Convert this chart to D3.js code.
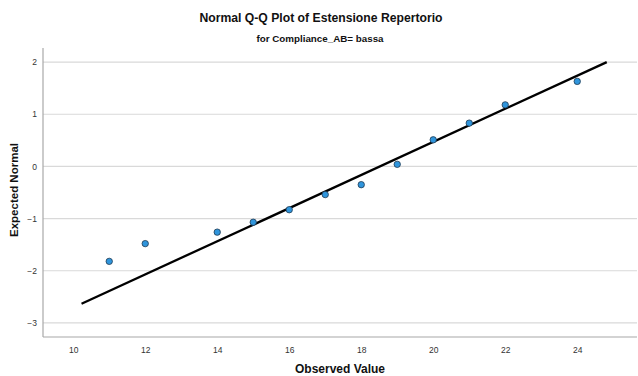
<!DOCTYPE html>
<html>
<head>
<meta charset="utf-8">
<script src="https://cdn.jsdelivr.net/npm/d3@7"></script>
<style>
  html, body { margin: 0; padding: 0; background: #fff; }
  svg { display: block; font-family: "Liberation Sans", Arial, Helvetica, sans-serif; }
</style>
</head>
<body>
<svg id="chart" width="638" height="376"></svg>
<script>
// Observed values and their expected normal scores
const observed = [11, 12, 14, 15, 16, 17, 18, 19, 20, 21, 22, 24];
const expected = [-1.82, -1.48, -1.26, -1.07, -0.83, -0.54, -0.35, 0.04, 0.51, 0.83, 1.18, 1.63];

// Reference line z = (x - mean) / sd, drawn over this x span
const refMean = 18.52;
const refSD = 3.15;
const refSpan = [10.23, 24.82];

const xTicks = [10, 12, 14, 16, 18, 20, 22, 24];
const yTicks = [-3, -2, -1, 0, 1, 2];

const titleText = "Normal Q-Q Plot of Estensione Repertorio";
const subtitleText = "for Compliance_AB= bassa";
const xLabel = "Observed Value";
const yLabel = "Expected Normal";

const svg = d3.select("#chart");
const W = 638, H = 376;
const m = { left: 43, right: 1, top: 48, bottom: 39 };

const x = d3.scaleLinear().domain([9.16, 25.66]).range([m.left, W - m.right]);
const y = d3.scaleLinear().domain([-3.27, 2.27]).range([H - m.bottom, m.top]);

// Horizontal gridlines
svg.append("g")
  .selectAll("line")
  .data(yTicks)
  .join("line")
  .attr("x1", m.left).attr("x2", W - m.right)
  .attr("y1", d => y(d)).attr("y2", d => y(d))
  .attr("stroke", "#d9d9d9").attr("stroke-width", 1.2);

// Axes (labels only, no tick marks)
const xAxis = svg.append("g")
  .attr("transform", `translate(0,${H - m.bottom})`)
  .call(d3.axisBottom(x).tickValues(xTicks).tickSize(0).tickPadding(10).tickFormat(d3.format("d")));
const yAxis = svg.append("g")
  .attr("transform", `translate(${m.left},0)`)
  .call(d3.axisLeft(y).tickValues(yTicks).tickSize(0).tickPadding(6).tickFormat(d3.format("d")));

[xAxis, yAxis].forEach(g => {
  g.select(".domain").attr("stroke", "#a8a8a8").attr("stroke-width", 1.2);
  g.selectAll("text")
    .attr("font-family", "'Liberation Sans', Arial, sans-serif")
    .attr("font-size", 8.5)
    .attr("fill", "#333");
});
yAxis.select(".domain").attr("d", `M0,${m.top}V${H - m.bottom}`);
xAxis.select(".domain").attr("d", `M${m.left},0H${W - m.right}`);

// Reference line
const line = d3.line().x(d => x(d)).y(d => y((d - refMean) / refSD));
svg.append("path")
  .datum(refSpan)
  .attr("d", line)
  .attr("fill", "none")
  .attr("stroke", "#000")
  .attr("stroke-width", 2.3);

// Points
svg.append("g")
  .selectAll("circle")
  .data(observed.map((v, i) => [v, expected[i]]))
  .join("circle")
  .attr("cx", d => x(d[0]))
  .attr("cy", d => y(d[1]))
  .attr("r", 3.2)
  .attr("fill", "#2f95dc")
  .attr("stroke", "#1f3a52")
  .attr("stroke-width", 0.8);

// Titles
svg.append("text")
  .attr("x", 321).attr("y", 22)
  .attr("text-anchor", "middle")
  .attr("font-size", 12.2).attr("font-weight", "bold").attr("fill", "#111")
  .text(titleText);
svg.append("text")
  .attr("x", 320).attr("y", 42)
  .attr("text-anchor", "middle")
  .attr("font-size", 9.8).attr("font-weight", "bold").attr("fill", "#111")
  .text(subtitleText);

// Axis titles
svg.append("text")
  .attr("x", (m.left + W - m.right) / 2).attr("y", 373)
  .attr("text-anchor", "middle")
  .attr("font-size", 12).attr("font-weight", "bold").attr("fill", "#111")
  .text(xLabel);
svg.append("text")
  .attr("transform", `translate(18,190) rotate(-90)`)
  .attr("text-anchor", "middle")
  .attr("font-size", 11.5).attr("font-weight", "bold").attr("fill", "#111")
  .text(yLabel);
</script>
</body>
</html>
